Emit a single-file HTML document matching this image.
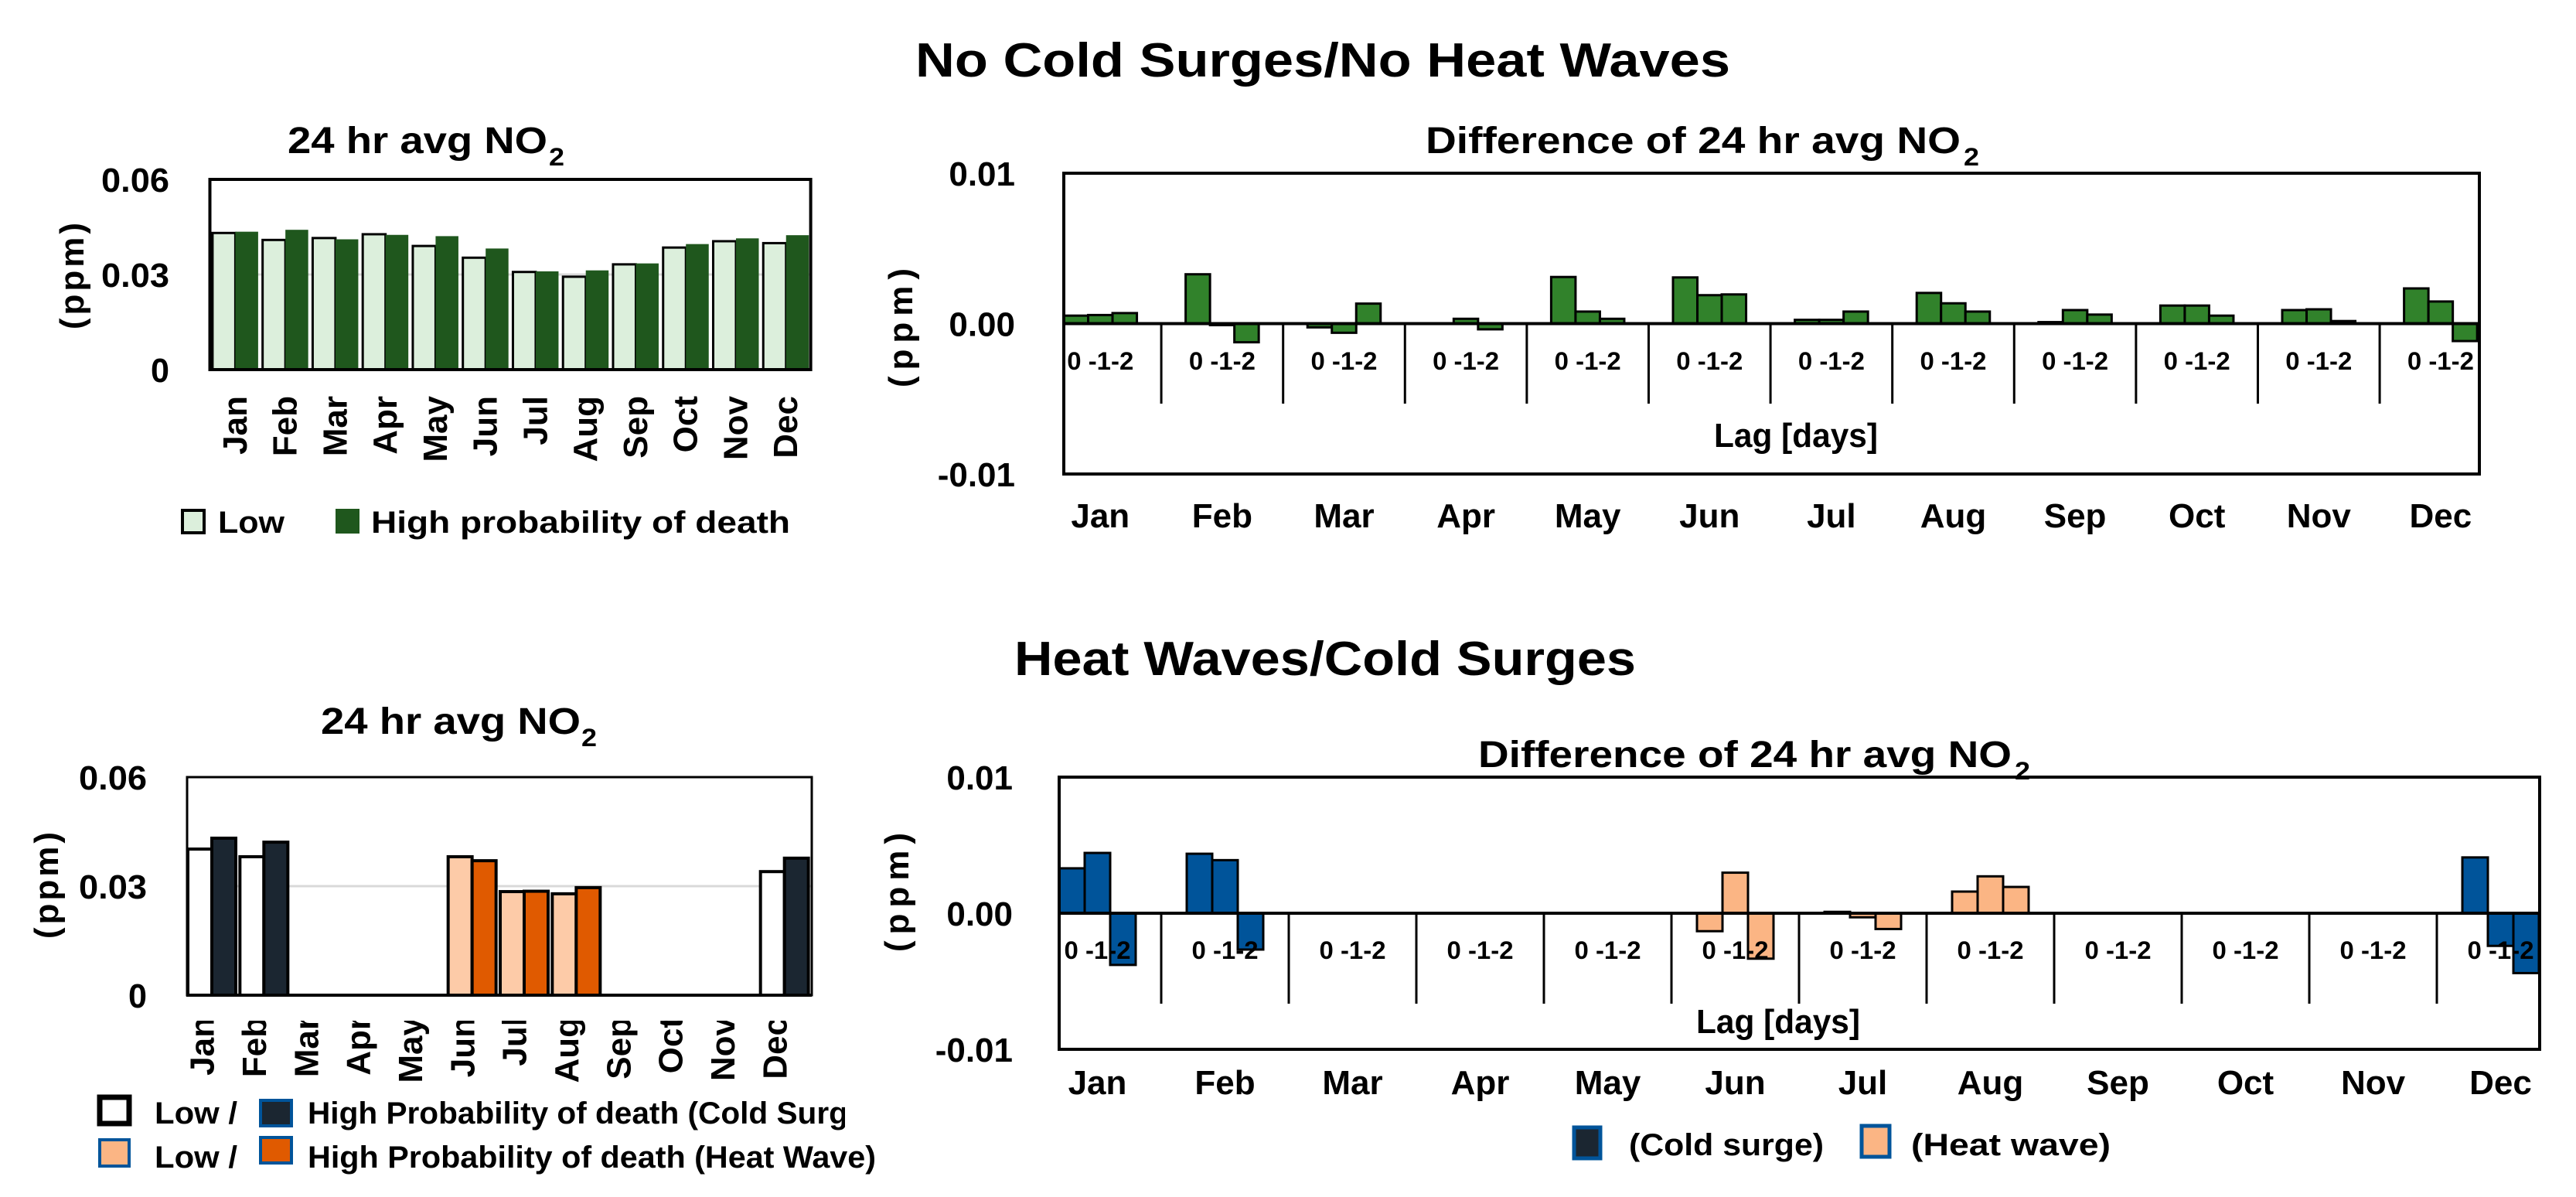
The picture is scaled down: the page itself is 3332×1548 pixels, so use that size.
<!DOCTYPE html>
<html><head><meta charset="utf-8"><style>
html,body{margin:0;padding:0;background:#fff;}
svg{display:block;font-family:"Liberation Sans",Arial,sans-serif;font-weight:bold;}
</style></head><body>
<svg id="fig" width="3332" height="1548" viewBox="0 0 3332 1548" xmlns="http://www.w3.org/2000/svg">
<defs>
<clipPath id="blLabClip"><rect x="200" y="1320" width="900" height="120"/></clipPath>
<clipPath id="blLegClip"><rect x="0" y="1400" width="1093" height="70"/></clipPath>
</defs>
<text x="1711" y="99" text-anchor="middle" font-size="62" textLength="1054" lengthAdjust="spacingAndGlyphs">No Cold Surges/No Heat Waves</text>
<text x="1714" y="873" text-anchor="middle" font-size="62" textLength="804" lengthAdjust="spacingAndGlyphs">Heat Waves/Cold Surges</text>
<g id="layer"></g>
</svg>
<script>
// ---------- data ----------
const months = ["Jan","Feb","Mar","Apr","May","Jun","Jul","Aug","Sep","Oct","Nov","Dec"];
const tlLow  = [0.0431,0.0409,0.0415,0.0427,0.0390,0.0353,0.0308,0.0293,0.0332,0.0385,0.0405,0.0399];
const tlHigh = [0.0435,0.0441,0.0411,0.0425,0.0421,0.0382,0.0310,0.0313,0.0335,0.0396,0.0414,0.0424];
const trLag0 = [0.00053,0.00328,-0.00025,0.00000,0.00310,0.00307,0.00025,0.00204,0.00010,0.00120,0.00090,0.00234];
const trLag1 = [0.00057,-0.00010,-0.00061,0.00032,0.00080,0.00189,0.00025,0.00135,0.00090,0.00120,0.00095,0.00147];
const trLag2 = [0.00070,-0.00124,0.00133,-0.00038,0.00032,0.00194,0.00080,0.00080,0.00060,0.00053,0.00017,-0.00116];
const blLow  = [0.0402,0.0381,null,null,null,0.0381,0.0285,0.0279,null,null,null,0.0340];
const blHigh = [0.0432,0.0421,null,null,null,0.0370,0.0286,0.0296,null,null,null,0.0377];
const season = ["cold","cold",null,null,null,"heat","heat","heat",null,null,null,"cold"];
const brLag0 = [0.0033,0.00437,null,null,null,-0.00132,0.0001,0.00159,null,null,null,0.0041];
const brLag1 = [0.00443,0.0039,null,null,null,0.00298,-0.0003,0.00271,null,null,null,-0.0024];
const brLag2 = [-0.0038,-0.00267,null,null,null,-0.00334,-0.00116,0.00193,null,null,null,-0.0044];
const absTicks = ["0.06","0.03","0"];
const absTickVals = [0.06,0.03,0];
const diffTicks = ["0.01","0.00","-0.01"];
const diffTickVals = [0.01,0,-0.01];

const NS="http://www.w3.org/2000/svg";
const layer=document.getElementById('layer');
function mk(tag,attrs,parent){const e=document.createElementNS(NS,tag);for(const k in attrs)e.setAttribute(k,attrs[k]);(parent||layer).appendChild(e);return e;}
function txt(s,attrs,parent){const e=mk('text',attrs,parent);e.textContent=s;return e;}

const C={lightGreen:"#dcefdc",darkGreen:"#1f571d",green:"#31822b",navy:"#1b2631",blue:"#00549a",orange:"#e05a00",peach:"#fdcba8",peachLeg:"#fbb584"};

// ---------- chart 1: top-left ----------
(function(){
 const L=271.5,R=1048.6,T=232,B=478,ymax=0.06,g=(R-L)/12,bw=29.5;
 const y=v=>B-(v/ymax)*(B-T);
 let e;
 e=mk('line',{x1:L,x2:R,y1:y(0.03),y2:y(0.03),stroke:"#d9d9d9","stroke-width":3});
  
 months.forEach((m,i)=>{
  const x0=L+i*g+3.4;
  let r=mk('rect',{x:x0,y:y(tlLow[i]),width:bw,height:B-y(tlLow[i]),fill:C.lightGreen,stroke:"#000","stroke-width":3});
   
  r=mk('rect',{x:x0+bw,y:y(tlHigh[i]),width:bw,height:B-y(tlHigh[i]),fill:C.darkGreen});
   
  const cx=L+i*g+g/2;
  const t=txt(m,{x:0,y:0,transform:`translate(${cx+15},512) rotate(-90)`,"text-anchor":"end","font-size":44});
   
 });
 e=mk('rect',{x:L,y:T,width:R-L,height:B-T,fill:"none",stroke:"#000","stroke-width":4});
  
 absTicks.forEach((s,i)=>{const t=txt(s,{x:219,y:y(absTickVals[i])+16,"text-anchor":"end","font-size":44,textLength:s.length>1?88:24,lengthAdjust:"spacingAndGlyphs"});
   });
 e=txt("(ppm)",{x:0,y:0,transform:"translate(108,355) rotate(-90)","text-anchor":"middle","font-size":44,"letter-spacing":"4"});
  
 e=txt("24 hr avg NO",{x:372,y:198,"font-size":48,textLength:336,lengthAdjust:"spacingAndGlyphs"});
  
 e=txt("2",{x:710,y:214,"font-size":32,textLength:20,lengthAdjust:"spacingAndGlyphs"});
  
 e=mk('rect',{x:236,y:660,width:28,height:29,fill:C.lightGreen,stroke:"#000","stroke-width":4});
  
 e=txt("Low",{x:282,y:689,"font-size":40,textLength:86,lengthAdjust:"spacingAndGlyphs"});
  
 e=mk('rect',{x:434,y:658,width:31,height:32,fill:C.darkGreen});
  
 e=txt("High probability of death",{x:480,y:689,"font-size":40,textLength:542,lengthAdjust:"spacingAndGlyphs"});
  
})();

// ---------- chart 2: top-right ----------
(function(){
 const L=1376,R=3207,T=224,B=613,g=157.6,u=g/5,gs0=L-u;
 const Z=(T+B)/2; const y=v=>Z-(v/0.01)*(Z-T);
 let e;
 const lags=[trLag0,trLag1,trLag2];
 months.forEach((m,i)=>{
  const gs=gs0+i*g;
  lags.forEach((arr,k)=>{
   const v=arr[i]; const yy=Math.min(y(v),Z), h=Math.abs(y(v)-Z);
   const r=mk('rect',{x:gs+u*(1+k),y:yy,width:u,height:Math.max(h,0.5),fill:C.green,stroke:"#000","stroke-width":3});
    
  });
  if(i>0){const s=mk('line',{x1:gs,x2:gs,y1:Z,y2:522,stroke:"#000","stroke-width":3});
    }
  const c=gs+g/2;
  const l=txt("0 -1-2",{x:c,y:478,"text-anchor":"middle","font-size":32,textLength:86,lengthAdjust:"spacingAndGlyphs"});
   
  const t=txt(m,{x:c,y:682,"text-anchor":"middle","font-size":44});
   
 });
 e=mk('line',{x1:L,x2:R,y1:Z,y2:Z,stroke:"#000","stroke-width":4});
  
 e=mk('rect',{x:L,y:T,width:R-L,height:B-T,fill:"none",stroke:"#000","stroke-width":4});
  
 diffTicks.forEach((s,i)=>{const t=txt(s,{x:1313,y:y(diffTickVals[i])+16,"text-anchor":"end","font-size":44});
   });
 e=txt("(ppm)",{x:0,y:0,transform:"translate(1180,420) rotate(-90)","text-anchor":"middle","font-size":44,"letter-spacing":"8"});
  
 e=txt("Lag [days]",{x:2323,y:578,"text-anchor":"middle","font-size":44,textLength:212,lengthAdjust:"spacingAndGlyphs"});
  
 e=txt("Difference of 24 hr avg NO",{x:1844,y:198,"font-size":48,textLength:692,lengthAdjust:"spacingAndGlyphs"});
  
 e=txt("2",{x:2540,y:214,"font-size":32,textLength:20,lengthAdjust:"spacingAndGlyphs"});
  
})();

// ---------- chart 3: bottom-left ----------
(function(){
 const L=242,R=1050,T=1005,B=1287,ymax=0.06,g=(R-L)/12,bw=31;
 const y=v=>B-(v/ymax)*(B-T);
 let e;
 e=mk('line',{x1:L,x2:R,y1:y(0.03),y2:y(0.03),stroke:"#d9d9d9","stroke-width":3});
  
 const labG=mk('g',{"clip-path":"url(#blLabClip)"});
  
 months.forEach((m,i)=>{
  const x0=L+i*g+1;
  const cold=season[i]==="cold";
  if(blLow[i]!==null){
   const r=mk('rect',{x:x0,y:y(blLow[i]),width:bw,height:B-y(blLow[i]),fill:cold?"#fff":C.peach,stroke:"#000","stroke-width":4});
    
  }
  if(blHigh[i]!==null){
   const r=mk('rect',{x:x0+bw,y:y(blHigh[i]),width:bw,height:B-y(blHigh[i]),fill:cold?C.navy:C.orange,stroke:"#000","stroke-width":4});
    
  }
  const cx=L+i*g+g/2;
  const t=txt(m,{x:0,y:0,transform:`translate(${cx+1},1315) rotate(-90)`,"text-anchor":"end","font-size":44},labG);
   
 });
 e=mk('rect',{x:L,y:T,width:R-L,height:B-T,fill:"none",stroke:"#000","stroke-width":3});
  
 e=mk('line',{x1:L,x2:R,y1:B,y2:B,stroke:"#000","stroke-width":4});
  
 absTicks.forEach((s,i)=>{const t=txt(s,{x:190,y:y(absTickVals[i])+16,"text-anchor":"end","font-size":44,textLength:s.length>1?88:24,lengthAdjust:"spacingAndGlyphs"});
   });
 e=txt("(ppm)",{x:0,y:0,transform:"translate(75,1143) rotate(-90)","text-anchor":"middle","font-size":44,"letter-spacing":"4"});
  
 e=txt("24 hr avg NO",{x:415,y:949,"font-size":48,textLength:336,lengthAdjust:"spacingAndGlyphs"});
  
 e=txt("2",{x:752,y:965,"font-size":32,textLength:20,lengthAdjust:"spacingAndGlyphs"});
  
 // legend
 e=mk('rect',{x:129,y:1419,width:38,height:34,fill:"#fff",stroke:"#000","stroke-width":7});
  
 e=txt("Low /",{x:200,y:1453,"font-size":40,textLength:107,lengthAdjust:"spacingAndGlyphs"});
  
 e=mk('rect',{x:337,y:1423,width:40,height:33,fill:C.navy,stroke:C.blue,"stroke-width":4});
  
 const lg=mk('g',{"clip-path":"url(#blLegClip)"});
  
 e=txt("High Probability of death (Cold Surge)",{x:398,y:1453,"font-size":40,textLength:735,lengthAdjust:"spacingAndGlyphs"},lg);
  
 e=mk('rect',{x:129,y:1474,width:38,height:34,fill:C.peachLeg,stroke:C.blue,"stroke-width":4});
  
 e=txt("Low /",{x:200,y:1510,"font-size":40,textLength:107,lengthAdjust:"spacingAndGlyphs"});
  
 e=mk('rect',{x:337,y:1471,width:40,height:33,fill:C.orange,stroke:C.blue,"stroke-width":4});
  
 e=txt("High Probability of death (Heat Wave)",{x:398,y:1510,"font-size":40,textLength:735,lengthAdjust:"spacingAndGlyphs"});
  
})();

// ---------- chart 4: bottom-right ----------
(function(){
 const L=1370,R=3285,T=1005,B=1357,g=165,u=33,gs0=L-u;
 const Z=1181; const y=v=>Z-(v/0.01)*(Z-T);
 let e;
 const lags=[brLag0,brLag1,brLag2];
 months.forEach((m,i)=>{
  const gs=gs0+i*g;
  if(season[i]){
   lags.forEach((arr,k)=>{
    const v=arr[i]; if(v===null)return;
    const yy=Math.min(y(v),Z), h=Math.abs(y(v)-Z);
    const r=mk('rect',{x:gs+u*(1+k),y:yy,width:u,height:Math.max(h,0.5),fill:season[i]==="cold"?C.blue:C.peachLeg,stroke:"#000","stroke-width":3});
     
   });
  }
  if(i>0){const s=mk('line',{x1:gs,x2:gs,y1:Z,y2:1298,stroke:"#000","stroke-width":3});
    }
  const c=gs+g/2;
  const l=txt("0 -1-2",{x:c,y:1240,"text-anchor":"middle","font-size":32,textLength:86,lengthAdjust:"spacingAndGlyphs"});
   
  const t=txt(m,{x:c,y:1415,"text-anchor":"middle","font-size":44});
   
 });
 e=mk('line',{x1:L,x2:R,y1:Z,y2:Z,stroke:"#000","stroke-width":4});
  
 e=mk('rect',{x:L,y:T,width:R-L,height:B-T,fill:"none",stroke:"#000","stroke-width":4});
  
 diffTicks.forEach((s,i)=>{const t=txt(s,{x:1310,y:y(diffTickVals[i])+16,"text-anchor":"end","font-size":44});
   });
 e=txt("(ppm)",{x:0,y:0,transform:"translate(1175,1150) rotate(-90)","text-anchor":"middle","font-size":44,"letter-spacing":"8"});
  
 e=txt("Lag [days]",{x:2300,y:1336,"text-anchor":"middle","font-size":44,textLength:212,lengthAdjust:"spacingAndGlyphs"});
  
 e=txt("Difference of 24 hr avg NO",{x:1912,y:992,"font-size":48,textLength:690,lengthAdjust:"spacingAndGlyphs"});
  
 e=txt("2",{x:2606,y:1008,"font-size":32,textLength:20,lengthAdjust:"spacingAndGlyphs"});
  
 e=mk('rect',{x:2036,y:1458,width:34,height:40,fill:C.navy,stroke:C.blue,"stroke-width":5});
  
 e=txt("(Cold surge)",{x:2107,y:1494,"font-size":40,textLength:252,lengthAdjust:"spacingAndGlyphs"});
  
 e=mk('rect',{x:2408,y:1456,width:36,height:40,fill:C.peachLeg,stroke:C.blue,"stroke-width":5});
  
 e=txt("(Heat wave)",{x:2472,y:1494,"font-size":40,textLength:258,lengthAdjust:"spacingAndGlyphs"});
  
})();
</script>
</body></html>
